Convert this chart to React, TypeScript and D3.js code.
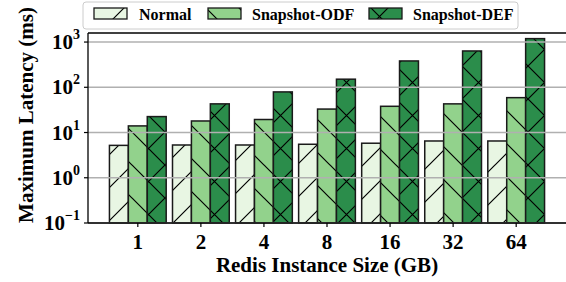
import React from "react";
import * as d3 from "d3";

const sizes = ["1", "2", "4", "8", "16", "32", "64"];
const normal = [5.2, 5.3, 5.3, 5.5, 5.8, 6.5, 6.5];
const snapshotODF = [14, 18, 19.4, 33, 38, 43, 59];
const snapshotDEF = [22.5, 43, 79, 151, 382, 635, 1190];
const seriesNames = ["Normal", "Snapshot-ODF", "Snapshot-DEF"];
const yTickExps = [-1, 0, 1, 2, 3];

const W = 566, H = 282;
const L = 88, R = 566, T = 33, B = 223;
const FONT = "'Liberation Serif', 'Times New Roman', serif";

const colors = ["#e8f6e3", "#92d28c", "#2b8d4b"];
const patterns = ["hNE", "hNW", "hX"];

const ts = { fontFamily: FONT, fontWeight: 700 } as React.CSSProperties;

export default function App() {
  const x = d3.scaleLinear().domain([-0.79, 6.79]).range([L, R]);
  const y = d3.scaleLog().domain([0.1, Math.pow(10, 3.2)]).range([B, T]);
  const bw = 0.3;
  const series = [normal, snapshotODF, snapshotDEF];
  const tile = 33;

  const bars: React.ReactElement[] = [];
  series.forEach((vals, si) => {
    vals.forEach((v, i) => {
      const c = i + (si - 1) * bw;
      const x0 = x(c - bw / 2);
      const x1 = x(c + bw / 2);
      const y0 = y(v);
      bars.push(
        <g key={`b${si}-${i}`}>
          <rect x={x0} y={y0} width={x1 - x0} height={B - y0} fill={colors[si]} />
          <rect x={x0} y={y0} width={x1 - x0} height={B - y0} fill={`url(#${patterns[si]})`} stroke="#1a1a1a" strokeWidth={1.5} />
        </g>
      );
    });
  });

  const legendItems = [
    { px: 94, tx: 139 },
    { px: 208, tx: 252 },
    { px: 369, tx: 413 },
  ];

  return (
    <svg width={W} height={H} style={{ position: "fixed", left: 0, top: 0, background: "#fff", fontFamily: FONT }}>
      <defs>
        <pattern id="hNE" patternUnits="userSpaceOnUse" width={tile} height={tile}>
          <path d={`M0,${tile} L${tile},0 M${-tile / 2},${tile / 2} L${tile / 2},${-tile / 2} M${tile / 2},${tile * 1.5} L${tile * 1.5},${tile / 2}`} stroke="#000" strokeWidth={1.2} />
        </pattern>
        <pattern id="hNW" patternUnits="userSpaceOnUse" width={tile} height={tile}>
          <path d={`M0,0 L${tile},${tile} M${-tile / 2},${tile / 2} L${tile / 2},${tile * 1.5} M${tile / 2},${-tile / 2} L${tile * 1.5},${tile / 2}`} stroke="#000" strokeWidth={1.2} />
        </pattern>
        <pattern id="hX" patternUnits="userSpaceOnUse" width={tile} height={tile}>
          <path d={`M0,${tile} L${tile},0 M0,0 L${tile},${tile}`} stroke="#000" strokeWidth={1.2} />
        </pattern>
      </defs>

      {bars}

      {yTickExps.map((e) => (
        <line key={`g${e}`} x1={L} x2={R} y1={y(Math.pow(10, e))} y2={y(Math.pow(10, e))} stroke="#b0b0b0" strokeWidth={1.5} />
      ))}

      <line x1={L} x2={R} y1={T} y2={T} stroke="#000" strokeWidth={1.3} />
      <line x1={L} x2={R} y1={B} y2={B} stroke="#000" strokeWidth={1.3} />
      <line x1={L} x2={L} y1={T} y2={B} stroke="#000" strokeWidth={1.3} />

      {yTickExps.map((e) => {
        const yy = y(Math.pow(10, e));
        return (
          <g key={`yt${e}`}>
            <line x1={L - 4} x2={L} y1={yy} y2={yy} stroke="#000" strokeWidth={1.2} />
            <text x={L - 8} y={yy + 7} textAnchor="end" fontSize={21} style={ts} fill="#000">
              10<tspan dy={-10} fontSize={14}>{e < 0 ? "\u2212" + Math.abs(e) : e}</tspan>
            </text>
          </g>
        );
      })}

      {sizes.map((s, i) => (
        <g key={`xt${i}`}>
          <line x1={x(i)} x2={x(i)} y1={B} y2={B + 4} stroke="#000" strokeWidth={1.2} />
          <text x={x(i)} y={249} textAnchor="middle" fontSize={21} style={ts} fill="#000">{s}</text>
        </g>
      ))}

      <text x={327} y={272} textAnchor="middle" fontSize={21} style={ts} fill="#000">Redis Instance Size (GB)</text>
      <text transform={`translate(33,115) rotate(-90)`} textAnchor="middle" fontSize={21} style={ts} fill="#000">Maximum Latency (ms)</text>

      <rect x={83} y={2} width={435} height={27} rx={3} fill="#fff" stroke="#cccccc" strokeWidth={1} />
      {legendItems.map((it, si) => (
        <g key={`lg${si}`}>
          <rect x={it.px} y={8} width={33} height={11} fill={colors[si]} />
          <rect x={it.px} y={8} width={33} height={11} fill={`url(#${patterns[si]})`} stroke="#1a1a1a" strokeWidth={1.3} />
          <text x={it.tx} y={20} fontSize={16} style={ts} fill="#000">{seriesNames[si]}</text>
        </g>
      ))}
    </svg>
  );
}
